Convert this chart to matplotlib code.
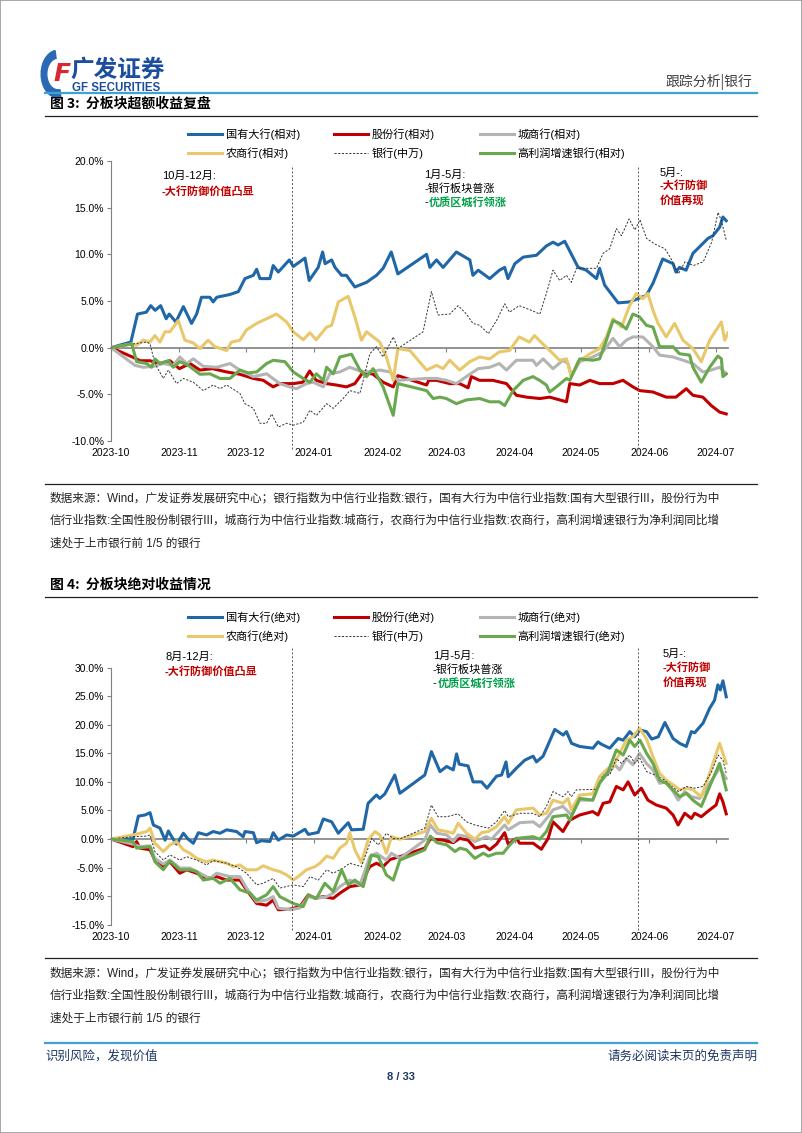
import matplotlib
matplotlib.use('Agg')
import matplotlib.pyplot as plt
import matplotlib.dates as mdates
import numpy as np
import pandas as pd
from matplotlib.lines import Line2D
from matplotlib.patches import Wedge, Rectangle
from matplotlib.ticker import FuncFormatter

plt.rcParams['font.family'] = ['Liberation Sans', 'Noto Sans CJK SC', 'DejaVu Sans']
plt.rcParams['axes.unicode_minus'] = False

# ---------------- data (x = days since 2023-10-01, y = return %) ----------------
BASE = '2023-10-01'
month_ticks = ['2023-10-01', '2023-11-01', '2023-12-01', '2024-01-01', '2024-02-01',
               '2024-03-01', '2024-04-01', '2024-05-01', '2024-06-01', '2024-07-01']
month_labels = ['2023-10', '2023-11', '2023-12', '2024-01', '2024-02',
                '2024-03', '2024-04', '2024-05', '2024-06', '2024-07']
phase_lines = ['2023-12-22', '2024-05-27']

legend_rel = ['国有大行(相对)', '股份行(相对)', '城商行(相对)',
              '农商行(相对)', '银行(中万)', '高利润增速银行(相对)']
legend_abs = ['国有大行(绝对)', '股份行(绝对)', '城商行(绝对)',
              '农商行(绝对)', '银行(中万)', '高利润增速银行(绝对)']

rel_big = [(0, 0), (9, 0.6), (12, 3.6), (16, 3.8), (18, 4.5), (20, 4.0), (22.5, 4.5), (25, 3.1), (26.4, 3.6),
           (29.4, 2.75), (32.8, 4.4), (36.5, 2.6), (38.8, 3.6), (41, 5.4), (44.8, 5.4), (46.3, 4.9), (47.9, 5.4),
           (53.9, 5.7), (57.7, 6.0), (60.7, 7.4), (64.5, 7.75), (66, 8.4), (67.5, 7.4), (72, 7.4), (73.5, 8.8),
           (75.8, 8.1), (80.8, 9.4), (82.6, 8.7), (87.9, 9.6), (89.8, 7.2), (93.9, 8.6), (95.9, 10.25), (97, 9.0),
           (100, 9.4), (101.5, 8.6), (104.5, 7.75), (106.7, 7.75), (110.5, 6.5), (115.8, 7.0), (120.3, 7.75),
           (123.3, 8.5), (127, 10.25), (130, 7.9), (143, 10.0), (144.5, 8.6), (147.5, 9.4), (150.5, 8.6),
           (156.5, 10.25), (162.6, 9.4), (164, 7.75), (166.4, 8.3), (171.6, 7.4), (176, 8.3), (178.4, 8.6),
           (179.9, 7.4), (183, 9.0), (186.8, 9.7), (192.8, 9.9), (197.3, 10.9), (200.3, 11.3), (202.6, 11.0),
           (205.6, 11.4), (211.7, 8.6), (215.4, 8.3), (220, 7.4), (221.4, 8.5), (223.7, 6.7), (229.8, 4.8),
           (235, 4.9), (238.8, 5.25), (242.6, 5.6), (245.6, 6.9), (250, 9.5), (254.7, 9.0), (256, 8.1),
           (257.6, 8.6), (260.6, 8.3), (263.7, 10.1), (270.5, 11.7), (272.8, 12.0), (275.8, 12.9), (277.3, 14.0),
           (278.8, 13.6)]
rel_joint = [(0, 0), (11.6, -1.2), (13, -1.4), (17.7, -1.4), (22, -1.7), (26.7, -1.4), (31, -2.25), (35.8, -1.7),
             (40.3, -2.4), (46, -2.25), (52.4, -2.6), (58.4, -2.85), (64.5, -3.3), (69, -3.5), (73.5, -4.2),
             (76.5, -3.85), (82.6, -3.85), (87, -3.7), (90, -2.5), (93, -3.5), (97.7, -3.85), (102, -4.0),
             (106.7, -4.2), (110.5, -3.85), (114.3, -2.6), (118.8, -2.85), (123.3, -3.7), (127.9, -4.2), (130, -3.0),
             (143, -4.0), (144, -3.5), (147.5, -3.5), (153.5, -3.85), (158, -3.85), (161.8, -4.3), (163.3, -3.1),
             (167, -3.5), (173, -3.5), (179.2, -3.85), (183.7, -5.1), (188.3, -5.3), (194.3, -5.45), (198.8, -5.3),
             (206.4, -5.8), (207.9, -3.85), (212.4, -4.0), (217, -3.5), (221.4, -3.85), (227.5, -3.85), (232, -3.5),
             (236.5, -4.2), (239.6, -4.6), (245.6, -4.75), (251.6, -5.3), (256, -5.3), (260.7, -4.4), (263.7, -5.1),
             (268.2, -5.3), (272, -6.2), (275.8, -6.9), (278.8, -7.1)]
rel_city = [(0, 0), (10.9, -1.9), (14.6, -2.1), (19.2, -2.0), (23.7, -1.7), (28.2, -1.9), (31.2, -1.0), (34.3, -1.7),
            (37.3, -1.2), (41.8, -2.0), (47.9, -2.1), (53.9, -1.7), (58.4, -2.4), (64.5, -3.1), (70.5, -2.8),
            (76.5, -3.85), (81, -4.2), (84, -4.4), (88.6, -3.85), (91.6, -3.7), (96.2, -4.2), (99.2, -2.8),
            (103.7, -2.6), (108.2, -2.1), (112.8, -2.5), (117.3, -2.6), (121.8, -2.4), (126.4, -2.6), (130, -3.5),
            (143, -3.3), (147.5, -3.3), (152, -3.5), (156.5, -3.85), (161, -3.1), (166.4, -2.25), (171.6, -2.1),
            (176, -1.7), (179.2, -2.4), (183.7, -1.35), (191.2, -1.35), (192.8, -1.9), (195.8, -1.2), (200.3, -2.25),
            (204.8, -1.35), (207.1, -1.7), (208.6, -3.0), (212.4, -1.5), (218.3, -1.0), (222.9, -0.45), (227.5, 1.0),
            (230.5, 0.1), (233.5, 0.8), (236.5, 1.15), (241, 1.15), (245.6, 0.1), (248.6, -0.8), (254.7, -1.0),
            (259.2, -1.35), (263.7, -1.7), (268.2, -2.6), (272, -2.4), (275.8, -2.1), (278.8, -2.8)]
rel_rural = [(0, 0), (9.4, 0.4), (11.6, 0.25), (14.6, 0.8), (17.7, 0.6), (19.9, 1.3), (22.2, 0.6), (24.5, 1.7),
             (26.7, 1.7), (30.5, 2.9), (33.5, 0.8), (37.3, 0.5), (40.3, -0.1), (44, 0.8), (47.1, 0.1), (52.4, -0.3),
             (54.6, 0.6), (58.4, 0.8), (61.4, 1.9), (66, 2.6), (70.5, 3.1), (75, 3.6), (79.6, 2.75), (82.6, 1.7),
             (87.1, 0.85), (90.1, 1.6), (93, 0.85), (97.7, 2.2), (100, 2.4), (103, 4.9), (107.5, 5.5), (110.5, 3.3),
             (113.5, 0.8), (115.8, 1.7), (118.8, 1.15), (121.8, 0.6), (124.8, -1.0), (127.9, -3.5), (130, -0.1),
             (135.4, -0.3), (143, -2.4), (147.5, -1.9), (150.5, -2.25), (153.5, -1.35), (158, -2.4), (162.6, -1.5),
             (167.1, -1.0), (171.6, -1.2), (176, -0.45), (180.6, -0.3), (185, 1.15), (189.6, 0.6), (191.9, 1.3),
             (195.7, 0.4), (198.8, -0.3), (203.3, -1.35), (206.4, -1.2), (208.6, -3.1), (211.7, -1.5), (217, -0.65),
             (221.4, -0.1), (224.5, 1.15), (227.5, 3.1), (231.3, 2.2), (235, 4.5), (238, 5.8), (241, 5.25),
             (243.3, 5.8), (245.6, 4.0), (247.9, 2.6), (251.6, 1.15), (255.4, 2.6), (259.2, 0.8), (263.7, -0.1),
             (267.5, -1.5), (271.3, 0.8), (276.6, 2.75), (278.1, 0.8), (279.6, 1.6)]
rel_bank = [(0, 0), (10, 0.4), (16.2, 0.6), (17.7, 0.4), (19.9, -1.7), (23.7, -3.3), (26, -2.4), (29.7, -3.85),
            (32.8, -3.3), (37.3, -3.7), (41.8, -4.6), (46.3, -4.0), (49.4, -4.4), (52.4, -4.0), (58.4, -4.9),
            (60.7, -6.0), (64.5, -6.5), (67.5, -8.1), (70.5, -8.1), (72.8, -7.1), (75.8, -8.5), (79.6, -8.1),
            (82.6, -8.3), (87.1, -8.0), (90.1, -6.7), (93.1, -7.25), (97.7, -6.0), (100.7, -6.5), (105.2, -5.45),
            (108.2, -4.6), (112.8, -4.9), (117.3, -0.65), (120.3, 0.1), (123.3, -1.0), (127.9, 1.15), (130, -0.1),
            (141.4, 1.7), (145.2, 6.0), (148.2, 3.5), (153.5, 3.6), (157.3, 4.5), (161.1, 3.6), (164, 2.6),
            (167.1, 2.4), (171, 1.5), (174.7, 2.9), (178.4, 4.7), (180.6, 3.8), (185, 4.5), (190.5, 4.0),
            (194.3, 3.6), (197.3, 5.8), (200.3, 8.3), (203.3, 7.2), (206.4, 7.75), (208.6, 7.0), (210.9, 8.5),
            (220, 8.5), (223, 10.1), (226, 10.6), (229, 12.75), (231.3, 12.0), (234.8, 13.8), (237.4, 12.6),
            (239.7, 13.7), (242.7, 11.7), (246.5, 11.1), (251, 10.6), (253.4, 9.7), (257.1, 7.9), (260.1, 9.2),
            (263.9, 8.8), (268.4, 9.2), (272.2, 11.3), (275.1, 14.5), (276.6, 13.6), (278.8, 11.5)]
rel_growth = [(0, 0), (9.4, 0.4), (11.6, -1.5), (16.2, -1.7), (18.4, -2.1), (19.9, -1.2), (22.2, -1.7), (26, -1.4),
              (28.2, -2.1), (31.2, -1.5), (35, -1.9), (40.3, -2.85), (44.8, -2.8), (49.4, -3.3), (53.9, -3.3),
              (58.4, -2.4), (62.2, -2.7), (66, -2.6), (70.5, -1.7), (73.5, -1.35), (78.8, -1.5), (82.6, -2.6),
              (87.1, -3.3), (90.1, -3.7), (93.1, -2.8), (96.2, -3.5), (97.7, -2.1), (100.7, -2.8), (103.7, -1.0),
              (109, -0.7), (112.8, -2.4), (115.8, -3.1), (118.8, -2.25), (123.3, -4.2), (127.9, -7.25), (130, -3.85),
              (143, -4.6), (146, -5.45), (149, -5.3), (152, -5.45), (156.5, -6.0), (161, -5.6), (167.1, -5.45),
              (171.6, -5.8), (176, -5.8), (178.4, -6.2), (182.2, -4.6), (186.8, -3.5), (191.2, -3.1), (194.2, -3.5),
              (197.3, -4.0), (198.8, -4.75), (201.8, -4.2), (206.4, -3.3), (207.9, -3.5), (212.4, -1.2),
              (218.3, -1.35), (221.4, -1.2), (224.5, 0.8), (227.5, 2.9), (230.5, 2.6), (233.5, 2.0), (236.5, 3.6),
              (239.5, 3.3), (242.6, 2.4), (245.6, 2.2), (248.6, 0.1), (254.7, 0.1), (257.6, -0.65), (262.2, -0.8),
              (263.7, -2.1), (267.5, -3.7), (271.3, -2.1), (275, -0.9), (276.6, -1.2), (277.3, -3.1), (278.8, -2.8)]

abs_big = [(0, 0), (10, 0), (12.4, 4.0), (15.4, 4.2), (17.7, 4.6), (19.2, 2.45), (22.2, 1.9), (24.5, -0.2), (26, 1.4),
           (28.2, -0.05), (29.7, -0.9), (32.8, 1.0), (35, -0.05), (37.3, -0.75), (39.6, 1.1), (43.3, 0.7),
           (46.3, 1.3), (49.4, 1.0), (52.4, 1.6), (56.9, 1.3), (59.9, 0.4), (60.7, 1.3), (64.5, 1.1), (66, -0.65),
           (68.2, -0.3), (72, -0.45), (73.5, 1.1), (75.8, -0.2), (79.6, 0.7), (82.6, 0.5), (87.9, 1.7), (89.4, 0.8),
           (93.9, 1.15), (96.2, 3.5), (100, 3.0), (103, 1.0), (107.5, 2.85), (109, 1.6), (114.3, 1.7),
           (116.5, 6.25), (120.3, 7.7), (121.8, 7.1), (124.1, 7.9), (128.6, 11.2), (130.9, 8.0), (142.2, 11.2),
           (145.2, 15.3), (149.1, 11.8), (152.1, 12.7), (155.1, 12.1), (156.6, 14.9), (157.8, 13.1), (161.8, 12.8),
           (164.1, 10.0), (167.9, 10.0), (170.4, 8.9), (174.7, 11.0), (177, 11.2), (179, 13.5), (180, 10.9),
           (183.7, 12.4), (187.5, 13.8), (191.3, 14.5), (192.8, 13.5), (195.8, 14.5), (201.1, 19.2), (204.9, 18.2),
           (206.4, 18.8), (208.7, 16.75), (212.4, 16.2), (218.4, 15.9), (220.7, 17.0), (222.2, 16.6), (226, 15.9),
           (229.8, 17.6), (232.1, 17.3), (235.1, 18.8), (237.3, 17.9), (239.7, 19.1), (242.7, 18.8), (245, 17.5),
           (248, 17.9), (251, 20.4), (254.7, 17.6), (257.7, 16.75), (260.7, 16.2), (263, 18.8), (264.5, 18.6),
           (268.3, 20.3), (271.3, 22.9), (273.5, 24.3), (275, 27.0), (276.1, 26.1), (277.3, 27.7), (278.8, 24.9)]
abs_joint = [(0, 0), (10, -1.35), (11.6, -0.45), (13.1, -1.6), (17.7, -1.9), (19.9, -3.7), (23.7, -4.85),
             (26.7, -4.0), (31.2, -6.0), (34.3, -5.4), (38.8, -6.0), (43.3, -6.9), (47.9, -6.6), (52.4, -7.2),
             (58.4, -7.2), (61.4, -8.9), (66, -11.3), (70.5, -11.6), (73.5, -10.7), (75.8, -12.4), (81, -12.3),
             (85.6, -11.85), (89.4, -9.8), (92.4, -10.4), (96.2, -10.1), (100.7, -10.4), (103.7, -9.5),
             (108.2, -8.35), (112.8, -8.05), (117.3, -4.85), (120.3, -4.25), (123.3, -4.85), (126.4, -3.6),
             (130.9, -3.1), (142.2, -1.6), (144.7, 0.0), (150.5, -0.2), (155.1, -0.65), (158, 0.1), (161.8, -0.2),
             (164.9, -1.6), (169.4, -1.2), (171.6, -1.9), (174.7, -0.9), (178.4, 1.1), (180, -0.9), (183.7, 0.1),
             (185.2, -0.75), (191.3, -0.75), (195, -1.8), (198.1, 0.1), (200.3, 3.0), (204.8, 1.3), (207.9, 3.3),
             (212.4, 4.2), (218.3, 4.8), (220.7, 4.2), (223, 6.25), (226, 6.5), (229, 9.2), (232.1, 8.6),
             (234.3, 10.0), (237.3, 7.7), (240.3, 8.9), (243.3, 6.8), (247.1, 5.95), (251.6, 5.4), (254.7, 4.2),
             (257, 2.45), (260, 4.5), (263, 3.6), (264.5, 4.5), (267.5, 3.9), (271.3, 5.1), (274.2, 5.95),
             (275.8, 7.9), (277.3, 6.5), (278.8, 4.4)]
abs_city = [(0, 0), (10, -0.9), (13.1, -1.35), (17.7, -1.2), (19.9, -3.4), (23.7, -4.4), (26.7, -3.7), (31.2, -5.1),
            (35.8, -5.1), (40.3, -6.0), (44.8, -6.9), (47.9, -6.0), (53.9, -6.6), (58.4, -6.6), (61.4, -8.6),
            (66, -11.0), (70.5, -10.7), (73.5, -10.1), (75.8, -12.1), (81, -12.4), (85.6, -12.1), (89.4, -10.1),
            (93.1, -10.4), (97.7, -10.1), (100.7, -9.5), (103.7, -8.35), (108.2, -7.2), (112.8, -8.05),
            (117.3, -3.1), (120.3, -2.5), (124.8, -3.7), (127.1, -2.5), (130.9, -3.4), (142.2, -0.2), (144.7, 2.45),
            (147.7, 1.0), (152.2, 0.7), (155.1, -0.45), (157.3, 0.7), (161.8, 0.4), (164.9, -0.45), (170.1, 0.4),
            (172.4, -0.05), (178.4, 2.45), (180, 1.6), (185.2, 2.85), (191.3, 3.0), (194.3, 2.15), (198.1, 3.9),
            (200.3, 5.1), (204.8, 5.7), (207.1, 4.8), (208.6, 4.2), (212.4, 6.8), (218.3, 6.8), (221.4, 10.0),
            (225.3, 11.5), (228.3, 13.0), (230.5, 12.1), (233.5, 14.1), (236.5, 13.0), (239.5, 15.0),
            (242.6, 13.25), (245.6, 12.1), (248.6, 9.75), (251.6, 10.0), (254.7, 8.3), (257, 6.8), (260, 8.3),
            (263, 7.4), (266.8, 7.1), (271.3, 9.75), (275.8, 12.4), (278.8, 10.6)]
abs_rural = [(0, 0), (10, 0.7), (13.1, 1.0), (16.2, 1.3), (17.7, 1.9), (19.9, -0.75), (23.7, -2.2), (26.7, -1.05),
             (29.7, -0.45), (32.8, -1.9), (35.8, -2.5), (38.8, -3.4), (43.3, -4.0), (46.3, -3.7), (52.4, -4.25),
             (55.4, -4.85), (58.4, -4.55), (61.4, -5.4), (66, -5.4), (69, -4.7), (73.5, -5.4), (76.5, -5.7),
             (79.6, -6.3), (82.6, -7.2), (84.8, -6.6), (88.6, -5.4), (92.4, -4.85), (94.7, -4.25), (97.7, -3.0),
             (100.7, -3.4), (103.7, -1.6), (106.7, -0.75), (108.2, 1.1), (110.5, -1.9), (113.5, -4.15),
             (116.5, -0.2), (119.6, 1.3), (121.8, 0.7), (124.8, -2.5), (127.1, 0.4), (130.9, -0.05), (142.2, 1.3),
             (145.2, 3.6), (148.2, 1.6), (152.2, 1.3), (155.1, 1.0), (157.3, 2.75), (161.1, 1.0), (164.9, -0.05),
             (167.9, 1.1), (171, 1.3), (174.7, 2.15), (178.4, 3.9), (180, 2.75), (183.7, 5.1), (191.3, 5.4),
             (194.3, 4.2), (197.3, 4.5), (200.3, 6.8), (204.8, 6.25), (207.1, 7.1), (208.6, 5.1), (212.4, 7.7),
             (218.3, 7.9), (221.4, 10.9), (225.3, 12.4), (227.5, 12.7), (230.5, 15.0), (233.5, 17.3), (236.5, 17.9),
             (239.5, 19.4), (242.6, 17.6), (245.6, 14.4), (248.6, 11.5), (251.6, 10.3), (254.7, 9.5), (257.7, 8.6),
             (260.7, 8.9), (263.7, 8.6), (267.5, 7.4), (271.3, 11.5), (275.8, 16.75), (278.8, 13.25)]
abs_bank = [(0, 0), (10, 0.4), (16.2, 0.5), (17.7, 0.7), (19.9, -2.2), (23.7, -3.7), (26.7, -2.8), (31.2, -3.7),
            (34.3, -3.1), (38.8, -3.7), (43.3, -4.55), (46.3, -3.8), (52.4, -4.25), (56.9, -4.85), (61.4, -6.0),
            (66, -8.05), (69, -7.75), (73.5, -6.9), (76.5, -8.6), (82.6, -8.05), (87.1, -8.35), (90.1, -6.6),
            (93.9, -7.2), (97.7, -5.4), (100.7, -6.0), (105.2, -5.1), (108.2, -4.25), (113.5, -4.85), (118.1, 0.1),
            (121.1, -1.05), (124.8, 1.0), (127.9, 0.1), (130.9, 0.0), (142.2, 1.9), (145.2, 5.95), (148.2, 3.9),
            (152.2, 3.9), (157.3, 4.4), (161.1, 3.0), (164.9, 2.45), (171, 1.9), (174.7, 3.0), (178.4, 5.0),
            (180, 3.9), (185.2, 4.5), (191.3, 4.5), (194.3, 3.9), (197.3, 5.7), (200.3, 8.3), (204.8, 7.4),
            (207.1, 8.3), (208.6, 7.4), (210.9, 8.6), (220, 8.7), (223, 11.2), (226, 11.2), (229, 14.1),
            (231.3, 13.25), (235.1, 14.7), (237.3, 13.25), (239.7, 14.1), (242.7, 11.8), (246.5, 11.2), (251, 10.3),
            (254.1, 9.2), (257.1, 8.3), (260.7, 9.2), (264.5, 8.9), (268.3, 9.2), (272.2, 11.8), (275.1, 14.7),
            (277.3, 13.8), (278.8, 11.5)]
abs_growth = [(0, 0), (10, -0.45), (11.6, -1.6), (17.7, -1.35), (19.9, -4.0), (23.7, -5.4), (26.7, -3.85),
              (31.2, -5.4), (35.8, -5.4), (38.8, -5.7), (41.8, -7.2), (46.3, -6.9), (49.4, -7.75), (53.9, -6.9),
              (58.4, -8.9), (63, -9.5), (66, -10.7), (70.5, -9.8), (73.5, -8.35), (76.5, -10.1), (82.6, -11.3),
              (87.1, -11.85), (89.4, -9.8), (93.1, -10.4), (96.9, -7.75), (100.7, -9.2), (104.5, -5.4),
              (107.5, -8.05), (110.5, -7.2), (114.3, -8.35), (118, -2.8), (121.1, -3.1), (124.8, -6.3),
              (127.9, -7.2), (130.9, -3.7), (142.2, -1.9), (144.7, 0.5), (147.7, -0.65), (152.2, -1.05),
              (155.9, -2.2), (158.1, -1.6), (161.1, -1.9), (164.9, -3.4), (168.7, -2.5), (171, -3.0), (174.7, -2.5),
              (177.7, -2.5), (180.7, -1.05), (183.7, 0.1), (191.3, 0.4), (194.3, -0.05), (197.3, 1.3), (200.3, 3.9),
              (206.4, 4.2), (207.9, 3.3), (212.4, 7.1), (218.3, 6.8), (221.4, 9.75), (225.3, 11.8), (229, 15.6),
              (232.1, 14.7), (235.1, 17.3), (237.3, 16.2), (239.7, 17.3), (242.7, 15.0), (245.6, 13.25),
              (248.6, 10.3), (251.6, 9.75), (255.4, 8.3), (257.7, 7.4), (260.7, 8.0), (263.7, 6.8), (267.5, 5.7),
              (271.3, 9.2), (275.8, 13.25), (278.8, 8.6)]

notes_lines = [
    '数据来源：Wind，广发证券发展研究中心；银行指数为中信行业指数:银行，国有大行为中信行业指数:国有大型银行III，股份行为中',
    '信行业指数:全国性股份制银行III，城商行为中信行业指数:城商行，农商行为中信行业指数:农商行，高利润增速银行为净利润同比增',
    '速处于上市银行前 1/5 的银行',
]

# ---------------- styling ----------------
C_BLUE, C_RED, C_GRAY, C_YEL, C_GRN = '#1f67a6', '#c00000', '#b4b4b4', '#e9c86b', '#6aa84f'
C_TXTGRN = '#00a04a'
C_AX = '#808080'
W, H = 802, 1133
fig = plt.figure(figsize=(W / 100, H / 100), dpi=100)


def fx(x):
    return x / W


def fy(y):
    return 1 - y / H


def to_xy(pts):
    d = pd.Timestamp(BASE) + pd.to_timedelta([p[0] for p in pts], unit='D')
    return d, [p[1] for p in pts]


def hline(y, x0, x1, color, lw):
    fig.add_artist(Line2D([fx(x0), fx(x1)], [fy(y), fy(y)], transform=fig.transFigure, color=color, lw=lw))


def txt(x, y, s, **kw):
    kw.setdefault('va', 'center')
    kw.setdefault('fontsize', 8)
    return fig.text(fx(x), fy(y), s, **kw)


def dash_text(x, y, s, color):
    t = txt(x, y, '-', fontsize=8)
    fig.canvas.draw()
    bb = t.get_window_extent()
    txt(x + bb.width + 0.5, y, s, fontsize=8, color=color, weight='bold')


def chart(top, bottom, ylim, ystep, series, labels, vtop, vbot):
    ax = fig.add_axes([fx(111), fy(bottom), (728 - 111) / W, (bottom - top) / H])
    styles = [(C_BLUE, 2.2, '-'), (C_RED, 2.2, '-'), (C_GRAY, 2.2, '-'),
              (C_YEL, 2.2, '-'), ('#333333', 0.7, (0, (2.2, 1.6))), (C_GRN, 2.2, '-')]
    handles = []
    for pts, (c, lw, ls), lab in zip(series, styles, labels):
        d, v = to_xy(pts)
        h, = ax.plot(d, v, color=c, lw=lw, ls=ls, label=lab, solid_joinstyle='round')
        handles.append(h)
    ax.set_xlim(pd.Timestamp(BASE), pd.Timestamp(BASE) + pd.Timedelta(days=279.6))
    ax.set_ylim(*ylim)
    ax.set_yticks(np.arange(ylim[0], ylim[1] + 0.01, ystep))
    ax.yaxis.set_major_formatter(FuncFormatter(lambda v, _: f'{v:.1f}%'))
    for s in ['top', 'right', 'bottom']:
        ax.spines[s].set_visible(False)
    ax.spines['left'].set_color(C_AX)
    ax.tick_params(axis='y', length=3, color=C_AX, labelsize=7.5, pad=2)
    mt = pd.to_datetime(month_ticks)
    ax.set_xticks(mt)
    ax.set_xticklabels(month_labels)
    ax.tick_params(axis='x', length=0, labelsize=7.5, pad=5)
    sec = ax.secondary_xaxis((0 - ylim[0]) / (ylim[1] - ylim[0]))
    sec.set_xticks(mdates.date2num(mt))
    sec.set_xticklabels([])
    sec.spines['bottom'].set_color(C_AX)
    sec.spines['bottom'].set_linewidth(1.2)
    sec.tick_params(axis='x', length=3, color=C_AX, direction='out')
    for d in pd.to_datetime(phase_lines):
        ax.axvline(d, ymin=vbot, ymax=vtop, clip_on=False, color='#555555', lw=0.7, ls=(0, (2, 2)))
    return ax, handles


def legend(handles, row1):
    order = [[0, 3], [1, 4], [2, 5]]
    xs = [190, 336, 482]
    for x, idx in zip(xs, order):
        fig.legend([handles[i] for i in idx], [handles[i].get_label() for i in idx],
                   loc='upper left', bbox_to_anchor=(fx(x - 2), fy(row1 - 8.5)), frameon=False,
                   fontsize=8, handlelength=3.1, handletextpad=0.3, borderpad=0,
                   borderaxespad=0, labelspacing=0.62)


# page border
fig.add_artist(Rectangle((0, 0), 1, 1, transform=fig.transFigure, fill=False, ec='#9a9a9a', lw=1.2))

# header
fig.add_artist(Wedge((fx(58), fy(74)), 0.021, 100, 280, width=0.007, transform=fig.transFigure,
                     color='#2a6ab4'))
txt(53, 74, 'F', fontsize=18, color='#d7282f', weight='bold', style='italic', family='DejaVu Sans')
txt(70, 70, '广发证券', fontsize=17, color='#1c4e9e', weight='bold', family=['Noto Sans CJK SC'])
txt(72, 88, 'GF SECURITIES', fontsize=8.3, color='#1c4e9e', weight='bold')
txt(752, 82, '跟踪分析|银行', fontsize=10, color='#404040', ha='right', family=['Noto Sans CJK SC'])
hline(92.5, 45, 757, '#3ea2d8', 1.6)

# figure 3
txt(50, 103.5, '图 3:  分板块超额收益复盘', fontsize=10, weight='bold', family=['Noto Sans CJK SC'])
hline(115.5, 45, 757, '#222222', 0.9)
ax1, h1 = chart(161, 441, (-10, 20), 5, [rel_big, rel_joint, rel_city, rel_rural, rel_bank, rel_growth],
                legend_rel, 0.985, -0.03)
legend(h1, 137)
txt(162, 176, '10月-12月:', fontsize=8)
txt(162, 191, '-大行防御价值凸显', fontsize=8, color=C_RED, weight='bold')
txt(424, 175, '1月-5月:', fontsize=8)
txt(424, 188.5, '-银行板块普涨', fontsize=8)
dash_text(424, 202.5, '优质区城行领涨', C_TXTGRN)
txt(660, 173, '5月-:', fontsize=8)
txt(660, 186, '-大行防御', fontsize=8, color=C_RED, weight='bold')
txt(660, 200, '价值再现', fontsize=8, color=C_RED, weight='bold')

hline(484, 45, 757, '#222222', 0.9)
for i, line in enumerate(notes_lines):
    txt(50, 498 + i * 23, line, fontsize=8.4, color='#222222')

# figure 4
txt(50, 585, '图 4:  分板块绝对收益情况', fontsize=10, weight='bold', family=['Noto Sans CJK SC'])
hline(597, 45, 757, '#222222', 0.9)
ax2, h2 = chart(667.7, 924.6, (-15, 30), 5, [abs_big, abs_joint, abs_city, abs_rural, abs_bank, abs_growth],
                legend_abs, 1.085, -0.02)
legend(h2, 620)
txt(165, 657, '8月-12月:', fontsize=8)
txt(165, 671, '-大行防御价值凸显', fontsize=8, color=C_RED, weight='bold')
txt(433, 656, '1月-5月:', fontsize=8)
txt(433, 669.5, '-银行板块普涨', fontsize=8)
dash_text(433, 683.5, '优质区城行领涨', C_TXTGRN)
txt(663, 653.5, '5月-:', fontsize=8)
txt(663, 667.5, '-大行防御', fontsize=8, color=C_RED, weight='bold')
txt(663, 682, '价值再现', fontsize=8, color=C_RED, weight='bold')

hline(958, 45, 757, '#222222', 0.9)
for i, line in enumerate(notes_lines):
    txt(50, 973 + i * 23, line, fontsize=8.4, color='#222222')

# footer
hline(1043, 45, 757, '#3ea2d8', 1.6)
txt(45, 1056, '识别风险，发现价值', fontsize=9, color='#1f3864', family=['Noto Sans CJK SC'])
txt(757, 1056, '请务必阅读末页的免责声明', fontsize=9, color='#1f3864', ha='right', family=['Noto Sans CJK SC'])
txt(401, 1077, '8 / 33', fontsize=8, color='#1f3864', ha='center', weight='bold')

fig.savefig('out.png', dpi=100)
